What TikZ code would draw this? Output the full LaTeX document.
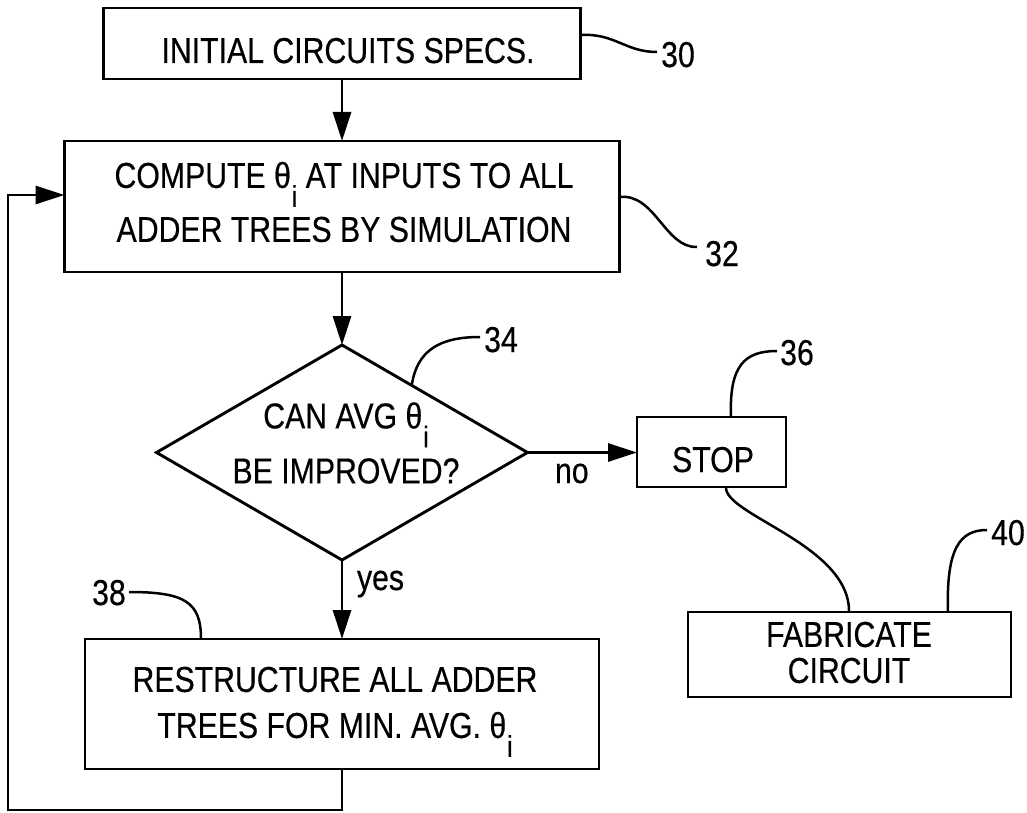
\documentclass[tikz,border=0pt]{standalone}
\usepackage{fontspec}
\setmainfont{Liberation Sans}[FakeStretch=0.84,FakeBold=0.4]
\usetikzlibrary{arrows.meta,shapes.geometric,calc}
\newcommand{\thsub}{θ\kern0.8pt\raisebox{-19pt}[0pt][0pt]{\fontsize{30}{30}\selectfont i}}
\begin{document}
\begin{tikzpicture}[x=1pt,y=-1pt,
  box/.style={draw, line width=2.9pt, inner sep=0pt, outer sep=0pt},
  txt/.style={inner sep=0pt, outer sep=0pt, align=center, font=\fontsize{36}{54}\selectfont},
  arr/.style={line width=2.9pt, -{Triangle[length=29pt,width=18pt]}},
  lead/.style={line width=2.5pt},
  num/.style={inner sep=0pt, font=\fontsize{36}{36}\selectfont, anchor=base}]
\fill[white] (0,0) rectangle (1027,813);
\useasboundingbox (0,0) rectangle (1027,813);

% boxes
\node[box, minimum width=477pt, minimum height=71pt] (init) at (342,43.5) {};
\node[txt, anchor=base] (tinit) at (348,63) {INITIAL CIRCUITS SPECS.};

\node[box, minimum width=555pt, minimum height=131pt] (cmp) at (342,206.5) {};
\node[txt] (tcmp) at (344,202) {COMPUTE \thsub{} AT INPUTS TO ALL\\ADDER TREES BY SIMULATION};

\node[box, diamond, minimum width=371pt, minimum height=215pt] (dec) at (342,452.5) {};
\node[txt, font=\fontsize{36}{55}\selectfont] (tdec) at (346,443) {CAN AVG \thsub\\BE IMPROVED?};

\node[box, minimum width=149pt, minimum height=70pt] (stop) at (711.5,452) {};
\node[txt, anchor=base] (tstop) at (713,472) {STOP};

\node[box, minimum width=323pt, minimum height=85pt] (fab) at (849.5,654.5) {};
\node[txt, font=\fontsize{36}{36}\selectfont] (tfab) at (849,652.5) {FABRICATE\\CIRCUIT};

\node[box, minimum width=514pt, minimum height=130pt] (res) at (342,704) {};
\node[txt, font=\fontsize{36}{46}\selectfont] (tres) at (335,702.5) {RESTRUCTURE ALL ADDER\\TREES FOR MIN. AVG. \thsub};

% connectors
\draw[arr] (init) -- (cmp);
\draw[arr] (cmp.south) -- (dec.north);
\draw[arr] (dec.east) -- (stop.west |- dec.east);
\draw[arr] (dec.south) -- (res.north);
\coordinate (fbl) at (8,810);
\coordinate (fbt) at (8,195);
\draw[arr] (res.south) |- (fbl) |- (cmp.west |- fbt);

\node[txt, anchor=base west] (no) at (555,483) {no};
\node[txt, anchor=base west] (yes) at (357,590) {yes};

\draw[lead] ([xshift=14.5pt]stop.south) .. controls (724,515) and (850,545) .. ([xshift=-0.5pt]fab.north);

% reference numerals
\node[num] (n30) at (678,67) {30};
\node[num] (n32) at (722,266) {32};
\node[num] (n34) at (501,352) {34};
\node[num] (n36) at (797,365) {36};
\node[num] (n40) at (1008,545) {40};
\node[num] (n38) at (109,605) {38};

\coordinate (l30) at (657,52);
\coordinate (l32) at (697,247);
\coordinate (l34) at (480,337);
\coordinate (l36) at (777,351);
\coordinate (l40) at (987,530);
\coordinate (l38) at (129,592);

\draw[lead] ([yshift=8.5pt]init.east) .. controls (615,33) and (625,52) .. (l30);
\draw[lead] ([yshift=9.5pt]cmp.east) .. controls (655,193) and (665,248) .. (l32);
\draw[lead] ($(dec.north)!0.376!(dec.east)$) .. controls (417,350) and (440,337) .. (l34);
\draw[lead] ([xshift=19.5pt]stop.north) .. controls (729,365) and (745,351) .. (l36);
\draw[lead] ([xshift=98.5pt]fab.north) .. controls (946,548) and (960,530) .. (l40);
\draw[lead] ([xshift=-141pt]res.north) .. controls (201,602) and (185,592) .. (l38);
\end{tikzpicture}
\end{document}
